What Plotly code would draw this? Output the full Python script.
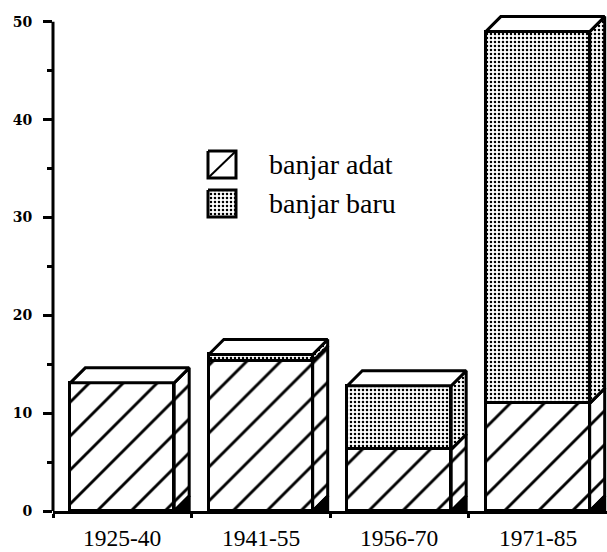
import plotly.graph_objects as go

# ---- data ----
categories = ["1925-40", "1941-55", "1956-70", "1971-85"]
banjar_adat = [13.1, 15.3, 6.3, 11.0]
banjar_baru = [0.0, 0.7, 6.5, 38.0]
series_names = ["banjar adat", "banjar baru"]
y_ticks = [0, 10, 20, 30, 40, 50]

# ---- layout constants ----
W, H = 607, 552
ML, MR, MT, MB = 53, 0, 12, 41
X_RANGE = [-0.5, 3.5]
Y_RANGE = [0, 51]
BAR_W = 0.75
plot_w = W - ML - MR
plot_h = H - MT - MB
px_x = plot_w / (X_RANGE[1] - X_RANGE[0])
px_y = plot_h / (Y_RANGE[1] - Y_RANGE[0])
DX = 15 / px_x
DY = 15 / px_y
LW = 3

hatch = dict(shape="/", fgcolor="black", bgcolor="white", size=24, solidity=0.12, fillmode="replace")
dots = dict(shape=".", fgcolor="black", bgcolor="white", size=4, solidity=0.32, fillmode="replace")

xs = list(range(len(categories)))
fig = go.Figure()

# front faces (stacked bars)
fig.add_trace(go.Bar(x=xs, y=banjar_adat, width=BAR_W, name=series_names[0],
                     marker=dict(color="white", line=dict(color="black", width=LW), pattern=hatch),
                     showlegend=False, hoverinfo="skip"))
fig.add_trace(go.Bar(x=xs, y=banjar_baru, width=BAR_W, name=series_names[1],
                     marker=dict(color="white", line=dict(color="black", width=LW), pattern=dots),
                     showlegend=False, hoverinfo="skip"))


def poly(px, py, pattern=None, fill="white"):
    kw = dict(x=px, y=py, mode="lines", fill="toself", fillcolor=fill,
              line=dict(color="black", width=LW), showlegend=False, hoverinfo="skip")
    if pattern is not None:
        kw["fillpattern"] = pattern
    fig.add_trace(go.Scatter(**kw))


# side and top faces
for k, (a, b) in enumerate(zip(banjar_adat, banjar_baru)):
    xl = k - BAR_W / 2
    xr = k + BAR_W / 2
    segs = [(0, a, hatch), (a, a + b, dots)]
    for y0, y1, pat in segs:
        if y1 - y0 <= 0:
            continue
        poly([xr, xr + DX, xr + DX, xr, xr], [y0, y0 + DY, y1 + DY, y1, y0], pattern=pat)
    # bottom bevel
    poly([xr, xr + DX, xr + DX, xr], [0, DY, 0, 0], fill="black")
    top = a + b
    poly([xl, xl + DX, xr + DX, xr, xl], [top, top + DY, top + DY, top, top], fill="white")

# ---- legend (pixel overlay axes) ----
box_x0, box_x1 = 208, 236
legend_rows = [(151, 178), (190, 217)]
(y0, y1) = legend_rows[0]
fig.add_trace(go.Scatter(x=[box_x0, box_x1, box_x1, box_x0, box_x0], y=[y0, y0, y1, y1, y0],
                         mode="lines", fill="toself", fillcolor="white",
                         line=dict(color="black", width=LW), xaxis="x2", yaxis="y2",
                         showlegend=False, hoverinfo="skip"))
fig.add_trace(go.Scatter(x=[box_x0, box_x1], y=[y1, y0], mode="lines",
                         line=dict(color="black", width=2), xaxis="x2", yaxis="y2",
                         showlegend=False, hoverinfo="skip"))
(y0, y1) = legend_rows[1]
fig.add_trace(go.Scatter(x=[box_x0, box_x1, box_x1, box_x0, box_x0], y=[y0, y0, y1, y1, y0],
                         mode="lines", fill="toself", fillcolor="white", fillpattern=dots,
                         line=dict(color="black", width=LW), xaxis="x2", yaxis="y2",
                         showlegend=False, hoverinfo="skip"))

annotations = []
for name, (y0, y1) in zip(series_names, legend_rows):
    annotations.append(dict(x=267, y=(y0 + y1) / 2, xref="x2", yref="y2", text=name,
                            showarrow=False, xanchor="left", yanchor="middle",
                            font=dict(family="Liberation Serif", size=28, color="black")))
for k, c in enumerate(categories):
    annotations.append(dict(x=k, y=0, xref="x", yref="paper", text=c, showarrow=False,
                            xanchor="center", yanchor="top", yshift=-12,
                            font=dict(family="Liberation Serif", size=23.5, color="black")))

fig.update_layout(
    width=W, height=H, margin=dict(l=ML, r=MR, t=MT, b=MB),
    paper_bgcolor="white", plot_bgcolor="white",
    barmode="stack", bargap=0,
    annotations=annotations,
    xaxis=dict(range=X_RANGE, showgrid=False, zeroline=False, showline=True,
               linecolor="black", linewidth=LW,
               tickvals=[-0.5, 0.5, 1.5, 2.5], ticktext=["", "", "", ""],
               ticks="outside", ticklen=4, tickwidth=3, tickcolor="black"),
    yaxis=dict(range=Y_RANGE, showgrid=False, zeroline=False, showline=False,
               tickvals=y_ticks, ticks="outside", ticklen=9, tickwidth=3, tickcolor="black",
               ticklabelstandoff=8,
               tickfont=dict(family="DejaVu Serif", size=14, color="black", weight="bold"),
               minor=dict(dtick=5, tick0=0, ticks="outside", ticklen=5, tickwidth=3, tickcolor="black")),
    xaxis2=dict(overlaying="x", range=[ML, W - MR], visible=False),
    yaxis2=dict(overlaying="y", range=[H - MB, MT], visible=False),
    shapes=[dict(type="line", xref="paper", yref="y", x0=0, x1=0, y0=-0.15, y1=y_ticks[-1],
                 line=dict(color="black", width=LW))],
)

fig.write_html("out.html", config={"displayModeBar": False},
               post_script="document.body.style.margin='0';document.body.style.overflow='hidden';")
